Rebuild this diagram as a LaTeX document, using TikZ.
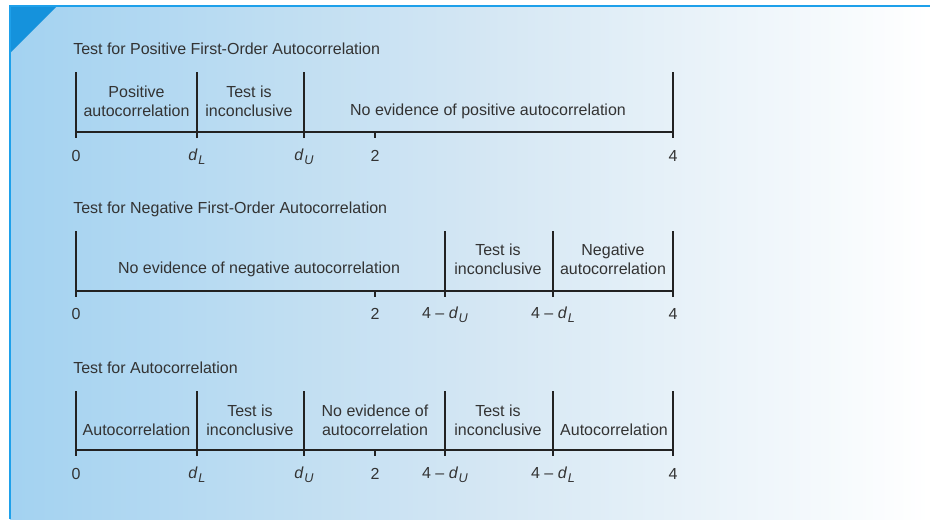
\documentclass[tikz,border=0pt]{standalone}
\usepackage{fontspec}
\setmainfont{Liberation Sans}
\definecolor{txt}{HTML}{333333}
\definecolor{ln}{HTML}{222222}
\definecolor{edge}{HTML}{1EA0EA}
\definecolor{tri}{HTML}{1592DC}
\definecolor{lb}{HTML}{A3D2F1}
\definecolor{mb}{HTML}{D3E6F3}
\tikzset{
  ttl/.style={anchor=west, text=txt, font=\fontsize{12pt}{14pt}\selectfont, inner sep=0},
  reg/.style={align=center, text=txt, font=\fontsize{12pt}{14.3pt}\selectfont, inner sep=0},
  lab/.style={text=txt, font=\fontsize{12pt}{14pt}\selectfont, inner sep=0},
  axis/.style={draw=ln, line width=1.1pt},
}
\newcommand{\dsub}[1]{\textit{d}\kern0.5pt\raisebox{-0.45ex}{\fontsize{9.5pt}{9.5pt}\selectfont\textit{#1}}}
\begin{document}
\begin{tikzpicture}[x=0.75pt, y=-0.75pt]
\useasboundingbox (0,0) rectangle (930,519);
\fill[left color=lb, right color=white, middle color=mb] (10,6) rectangle (930,519);
\fill[tri] (10,6) -- (57,6) -- (10,53) -- cycle;
\draw[edge, line width=1.5pt] (10,519) -- (10,6) -- (930,6);

% ---------- Section 1
\node[ttl] (t1) at (73,49) {Test for Positive First-Order Autocorrelation};
\coordinate (a0t) at (76,72);  \coordinate (a0b) at (76,138);
\coordinate (a1t) at (197,72); \coordinate (a1b) at (197,138);
\coordinate (a2t) at (304,72); \coordinate (a2b) at (304,138);
\coordinate (a4t) at (673,72); \coordinate (a4b) at (673,138);
\coordinate (axL) at (76,132); \coordinate (axR) at (673,132);
\coordinate (m2t) at (375,132); \coordinate (m2b) at (375,138);
\draw[axis] (axL) -- (axR);
\draw[axis] (a0t) -- (a0b) (a1t) -- (a1b) (a2t) -- (a2b) (a4t) -- (a4b) (m2t) -- (m2b);
\node[reg] (r11) at (136.5,101) {Positive\\autocorrelation};
\node[reg] (r12) at (249,101) {Test is\\inconclusive};
\node[reg] (r13) at (488,111.5) {No evidence of positive autocorrelation};
\node[lab] (l10) at (76,156) {0};
\node[lab] (l11) at (197,157) {\dsub{L}};
\node[lab] (l12) at (304,157) {\dsub{U}};
\node[lab] (l13) at (375,156) {2};
\node[lab] (l14) at (673,156) {4};

% ---------- Section 2
\node[ttl] (t2) at (73,209) {Test for Negative First-Order Autocorrelation};
\coordinate (b0t) at (76,231);  \coordinate (b0b) at (76,297);
\coordinate (b1t) at (445,231); \coordinate (b1b) at (445,297);
\coordinate (b2t) at (553,231); \coordinate (b2b) at (553,297);
\coordinate (b4t) at (673,231); \coordinate (b4b) at (673,297);
\coordinate (bxL) at (76,291); \coordinate (bxR) at (673,291);
\coordinate (n2t) at (375,291); \coordinate (n2b) at (375,297);
\draw[axis] (bxL) -- (bxR);
\draw[axis] (b0t) -- (b0b) (b1t) -- (b1b) (b2t) -- (b2b) (b4t) -- (b4b) (n2t) -- (n2b);
\node[reg] (r21) at (259,269.5) {No evidence of negative autocorrelation};
\node[reg] (r22) at (498,259) {Test is\\inconclusive};
\node[reg] (r23) at (613,259) {Negative\\autocorrelation};
\node[lab] (l20) at (76,314) {0};
\node[lab] (l21) at (375,314) {2};
\node[lab] (l22) at (445,315) {4 – \dsub{U}};
\node[lab] (l23) at (553,315) {4 – \dsub{L}};
\node[lab] (l24) at (673,314) {4};

% ---------- Section 3
\node[ttl] (t3) at (73,368) {Test for Autocorrelation};
\coordinate (c0t) at (76,391);  \coordinate (c0b) at (76,456);
\coordinate (c1t) at (197,391); \coordinate (c1b) at (197,456);
\coordinate (c2t) at (304,391); \coordinate (c2b) at (304,456);
\coordinate (c3t) at (445,391); \coordinate (c3b) at (445,456);
\coordinate (c5t) at (553,391); \coordinate (c5b) at (553,456);
\coordinate (c4t) at (673,391); \coordinate (c4b) at (673,456);
\coordinate (cxL) at (76,450); \coordinate (cxR) at (673,450);
\coordinate (o2t) at (375,450); \coordinate (o2b) at (375,456);
\draw[axis] (cxL) -- (cxR);
\draw[axis] (c0t) -- (c0b) (c1t) -- (c1b) (c2t) -- (c2b) (c3t) -- (c3b) (c5t) -- (c5b) (c4t) -- (c4b) (o2t) -- (o2b);
\node[reg] (r31) at (136.5,429.5) {Autocorrelation};
\node[reg] (r32) at (250,420) {Test is\\inconclusive};
\node[reg] (r33) at (375,420) {No evidence of\\autocorrelation};
\node[reg] (r34) at (498,420) {Test is\\inconclusive};
\node[reg] (r35) at (614,429.5) {Autocorrelation};
\node[lab] (l30) at (76,474) {0};
\node[lab] (l31) at (197,475) {\dsub{L}};
\node[lab] (l32) at (304,475) {\dsub{U}};
\node[lab] (l33) at (375,474) {2};
\node[lab] (l34) at (445,475) {4 – \dsub{U}};
\node[lab] (l35) at (553,475) {4 – \dsub{L}};
\node[lab] (l36) at (673,474) {4};
\end{tikzpicture}
\end{document}
